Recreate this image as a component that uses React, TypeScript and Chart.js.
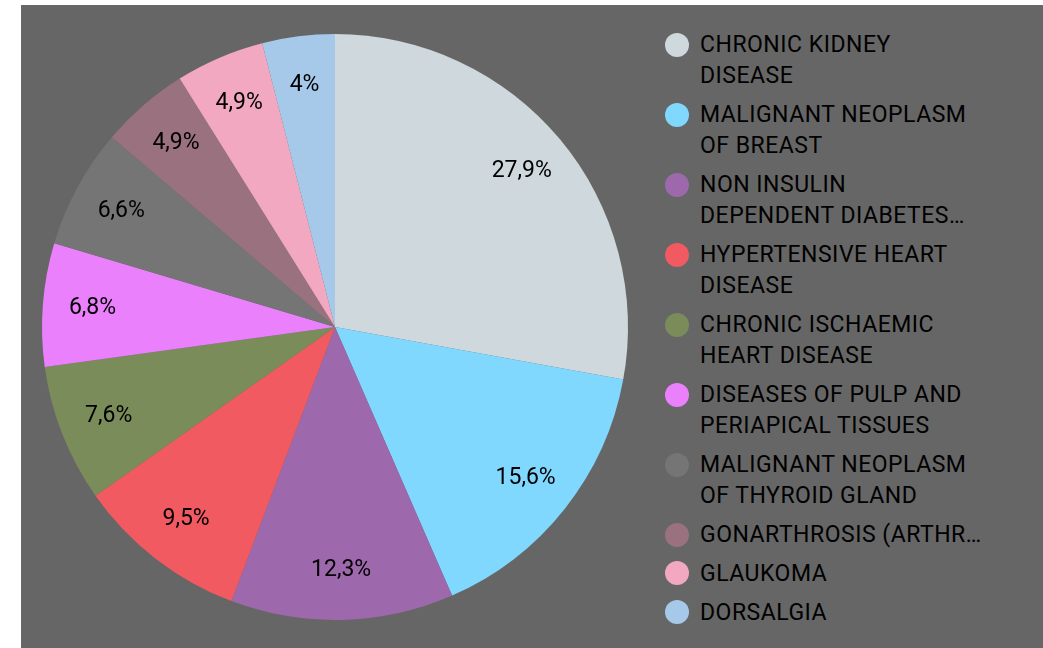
import React, { useEffect, useRef } from "react";
import { Chart, registerables } from "chart.js";

Chart.register(...registerables);

const categories: string[] = [
  "CHRONIC KIDNEY DISEASE",
  "MALIGNANT NEOPLASM OF BREAST",
  "NON INSULIN DEPENDENT DIABETES…",
  "HYPERTENSIVE HEART DISEASE",
  "CHRONIC ISCHAEMIC HEART DISEASE",
  "DISEASES OF PULP AND PERIAPICAL TISSUES",
  "MALIGNANT NEOPLASM OF THYROID GLAND",
  "GONARTHROSIS (ARTHR…",
  "GLAUKOMA",
  "DORSALGIA",
];

const shares: number[] = [27.9, 15.6, 12.3, 9.5, 7.6, 6.8, 6.6, 4.9, 4.9, 4];

const sliceColors: string[] = [
  "#CFD8DC",
  "#80D8FF",
  "#9D69AC",
  "#F05A60",
  "#7A8C5A",
  "#EA80FC",
  "#757575",
  "#9A717E",
  "#F2A8C0",
  "#A6C9EA",
];

const fmt = (v: number) => String(v).replace(".", ",") + "%";

const valueLabels = {
  id: "valueLabels",
  afterDatasetsDraw(chart: any) {
    const ctx = chart.ctx;
    const meta = chart.getDatasetMeta(0);
    ctx.save();
    ctx.font = "23px Roboto";
    ctx.fillStyle = "#000";
    ctx.textAlign = "center";
    ctx.textBaseline = "middle";
    meta.data.forEach((arc: any, i: number) => {
      const p = arc.getProps(["x", "y", "startAngle", "endAngle", "outerRadius"], true);
      const mid = (p.startAngle + p.endAngle) / 2;
      const r = p.outerRadius * 0.83;
      ctx.fillText(fmt(shares[i]), p.x + Math.cos(mid) * r, p.y + Math.sin(mid) * r);
    });
    ctx.restore();
  },
};

export default function App() {
  const ref = useRef<HTMLCanvasElement | null>(null);
  useEffect(() => {
    if (!ref.current) return;
    const chart = new Chart(ref.current, {
      type: "pie",
      data: {
        labels: categories,
        datasets: [
          {
            data: shares,
            backgroundColor: sliceColors,
            borderWidth: 0,
          },
        ],
      },
      options: {
        animation: false,
        responsive: false,
        maintainAspectRatio: false,
        layout: { padding: { top: 29, bottom: 28, left: 21, right: 21 } },
        plugins: {
          legend: { display: false },
          tooltip: { enabled: false },
        },
      },
      plugins: [valueLabels],
    });
    return () => chart.destroy();
  }, []);

  return (
    <div
      style={{
        position: "fixed",
        left: 21,
        top: 5,
        width: 1022,
        height: 643,
        background: "#666666",
        overflow: "hidden",
        fontFamily: "Roboto, sans-serif",
      }}
    >
      <canvas
        ref={ref}
        width={628}
        height={643}
        style={{ position: "absolute", left: 0, top: 0, width: 628, height: 643 }}
      />
      <div style={{ position: "absolute", left: 644, top: 24, width: 370 }}>
        {categories.map((c, i) => (
          <div key={c} style={{ position: "relative", paddingLeft: 35, marginBottom: 7.5 }}>
            <span
              style={{
                position: "absolute",
                left: 0,
                top: 3.5,
                width: 24,
                height: 24,
                borderRadius: "50%",
                background: sliceColors[i],
              }}
            />
            <div
              style={{
                width: 283,
                fontSize: 23,
                lineHeight: "31.25px",
                color: "#000",
                letterSpacing: 0.5,
                whiteSpace: "normal",
              }}
            >
              {c}
            </div>
          </div>
        ))}
      </div>
    </div>
  );
}
